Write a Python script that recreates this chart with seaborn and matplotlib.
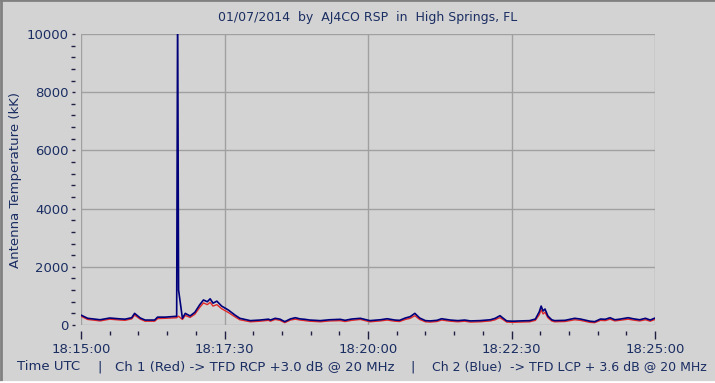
import matplotlib
matplotlib.use("Agg")
import matplotlib.pyplot as plt
import seaborn as sns
from matplotlib.ticker import MultipleLocator
from matplotlib.lines import Line2D

# seconds after 18:15:00
times = [0, 7, 20, 30, 41, 46, 53, 56, 62, 67, 77, 80, 88, 100, 101, 102, 106, 109, 114, 119,
         124, 128, 132, 135, 138, 142, 147, 154, 161, 166, 177, 187, 196, 198, 203, 208, 213, 219, 224, 229,
         234, 239, 245, 250, 260, 271, 276, 283, 292, 302, 313, 320, 328, 333, 339, 344, 349, 354, 360, 365,
         372, 377, 386, 394, 401, 407, 417, 428, 433, 436, 438, 441, 445, 451, 459, 469, 475, 479, 481, 483,
         485, 488, 492, 495, 506, 516, 522, 532, 537, 543, 548, 553, 558, 563, 572, 577, 584, 590, 595, 600]

# Ch 2 (Blue), kK
blue = [340, 230, 180, 240, 210, 200, 250, 400, 240, 170, 170, 270, 270, 300, 11000, 1200, 230, 400, 310, 435,
        690, 860, 800, 900, 750, 820, 650, 515, 340, 230, 150, 170, 200, 170, 230, 200, 115, 210, 250, 210,
        195, 170, 160, 150, 180, 195, 160, 205, 230, 150, 180, 215, 170, 160, 240, 285, 400, 240, 150, 140,
        160, 215, 170, 150, 170, 140, 150, 180, 230, 285, 320, 240, 140, 130, 140, 150, 205, 450, 650, 480,
        550, 310, 180, 150, 160, 230, 205, 130, 115, 205, 195, 250, 180, 200, 250, 215, 180, 230, 170, 240]

# Ch 1 (Red), kK
red = [300, 190, 140, 200, 170, 160, 210, 340, 200, 130, 130, 220, 230, 250, 280, 300, 190, 330, 260, 370,
       600, 760, 700, 780, 650, 700, 560, 430, 280, 180, 110, 130, 160, 130, 190, 160, 80, 170, 200, 170,
       150, 130, 120, 110, 140, 150, 120, 160, 190, 110, 140, 170, 130, 120, 190, 230, 320, 190, 110, 100,
       120, 170, 130, 110, 130, 100, 110, 140, 180, 230, 250, 190, 100, 90, 100, 110, 160, 350, 520, 380,
       440, 250, 140, 110, 120, 180, 160, 90, 80, 160, 150, 200, 140, 160, 200, 170, 140, 180, 130, 190]

x_tick_labels = ["18:15:00", "18:17:30", "18:20:00", "18:22:30", "18:25:00"]

bg = "#D4D3D4"
txt = "#1A2E62"

sns.set_style("white")
plt.rcParams["font.family"] = ["DejaVu Sans"]

fig = plt.figure(figsize=(7.15, 3.83), dpi=100, facecolor=bg)
ax = fig.add_axes([81 / 715, 1 - 325 / 383, 574 / 715, 291 / 383])
ax.set_facecolor(bg)

sns.lineplot(x=times, y=red, ax=ax, color="#E02828", linewidth=1.0)
sns.lineplot(x=times, y=blue, ax=ax, color="#00007A", linewidth=1.2)

ax.set_xlim(0, 600)
ax.set_ylim(0, 10000)
ax.set_xticks([0, 150, 300, 450, 600])
ax.set_xticklabels(x_tick_labels)
ax.xaxis.set_minor_locator(MultipleLocator(30))
ax.yaxis.set_major_locator(MultipleLocator(2000))
ax.yaxis.set_minor_locator(MultipleLocator(400))
ax.grid(True, which="major", color="#A0A0A0", linewidth=1)
ax.set_axisbelow(True)

for s in ax.spines.values():
    s.set_visible(False)
ax.spines["left"].set_position(("outward", 4))
ax.spines["bottom"].set_position(("outward", 4))

ax.tick_params(axis="x", which="major", direction="out", length=6, width=1,
               color="#202040", labelsize=9.5, labelcolor=txt, pad=3, bottom=True)
ax.tick_params(axis="x", which="minor", direction="out", length=3, width=1,
               color="#202040", bottom=True)
ax.tick_params(axis="y", which="major", direction="out", length=2, width=1,
               color="#202040", labelsize=9.5, labelcolor=txt, pad=3, left=True)
ax.tick_params(axis="y", which="minor", direction="out", length=3, width=1,
               color="#202040", left=True)

ax.set_xlabel("")
ax.set_ylabel("Antenna Temperature (kK)", fontsize=9.5, color=txt, labelpad=3)

fig.text(368 / 715, 1 - 18 / 383, "01/07/2014  by  AJ4CO RSP  in  High Springs, FL",
         ha="center", va="center", fontsize=9, color=txt)

yb = 1 - 367 / 383
fig.text(17 / 715, yb, "Time UTC", ha="left", va="center", fontsize=9.5, color=txt)
fig.text(97 / 715, yb, "|", ha="left", va="center", fontsize=9.5, color=txt)
fig.text(115 / 715, yb, "Ch 1 (Red) -> TFD RCP +3.0 dB @ 20 MHz", ha="left", va="center", fontsize=9.5, color=txt)
fig.text(410 / 715, yb, "|", ha="left", va="center", fontsize=9.5, color=txt)
fig.text(432 / 715, yb, "Ch 2 (Blue)  -> TFD LCP + 3.6 dB @ 20 MHz", ha="left", va="center", fontsize=9, color=txt)

# window frame
fig.add_artist(Line2D([0.001, 0.001], [0, 1], transform=fig.transFigure, color="#808080", linewidth=2))
fig.add_artist(Line2D([0, 1], [0.999, 0.999], transform=fig.transFigure, color="#808080", linewidth=2))
fig.add_artist(Line2D([0, 1], [0.003, 0.003], transform=fig.transFigure, color="#FFFFFF", linewidth=2))

fig.savefig("out.png", dpi=100, facecolor=bg)
